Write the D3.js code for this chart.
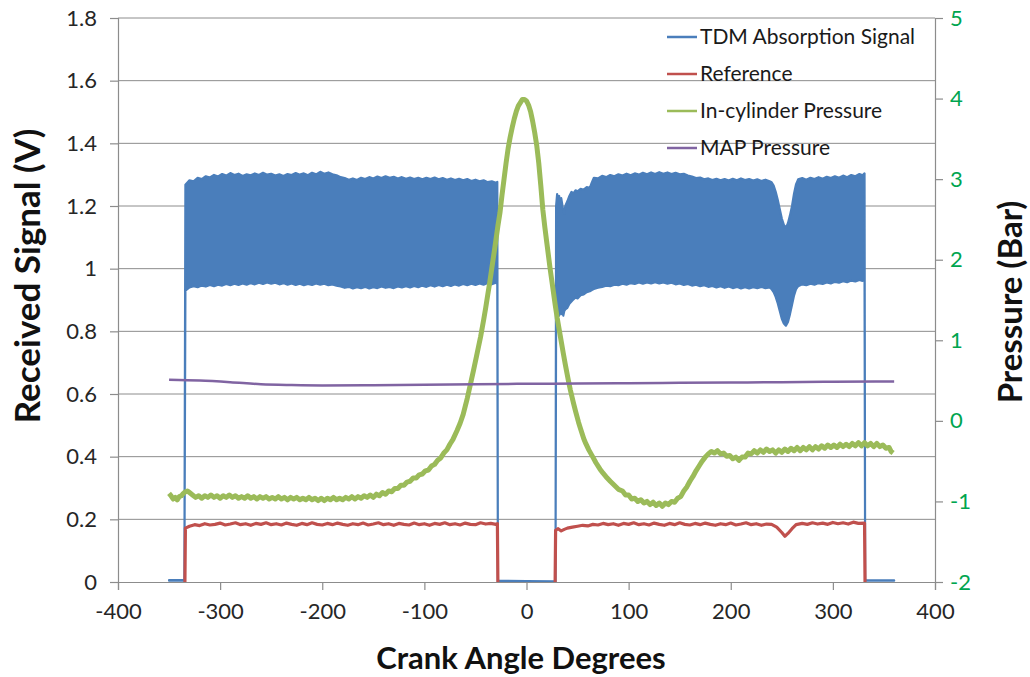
<!DOCTYPE html>
<html>
<head>
<meta charset="utf-8">
<script src="https://cdn.jsdelivr.net/npm/d3@7"></script>
<style>
  body { margin: 0; background: #fff; }
  svg { display: block; }
  text { font-family: Lato, "Noto Sans", sans-serif; }
</style>
</head>
<body>
<svg id="chart" width="1030" height="677"></svg>
<script>
// ---- Series data (crank angle in degrees) ----

// TDM absorption signal. The fast oscillation is kept as its envelope:
// each row is [crank angle, upper value (V), lower value (V)].
const tdmOffStart = [[-350, 0.006, 0.004], [-335, 0.006, 0.004]];
const tdmOnFirst = [
  [-334, 1.268, 0.930], [-330, 1.282, 0.940], [-326, 1.279, 0.944], [-322, 1.290, 0.941], [-318, 1.286, 0.946],
  [-314, 1.295, 0.943], [-310, 1.291, 0.948], [-306, 1.299, 0.944], [-302, 1.294, 0.949], [-298, 1.302, 0.946],
  [-294, 1.297, 0.951], [-290, 1.305, 0.947], [-286, 1.299, 0.952], [-282, 1.303, 0.948], [-278, 1.296, 0.953],
  [-274, 1.301, 0.949], [-270, 1.298, 0.954], [-266, 1.304, 0.950], [-262, 1.299, 0.955], [-258, 1.306, 0.951],
  [-254, 1.300, 0.956], [-250, 1.303, 0.952], [-246, 1.297, 0.955], [-242, 1.301, 0.950], [-238, 1.296, 0.954],
  [-234, 1.302, 0.949], [-230, 1.299, 0.953], [-226, 1.305, 0.948], [-222, 1.300, 0.952], [-218, 1.304, 0.947],
  [-214, 1.298, 0.951], [-210, 1.306, 0.948], [-206, 1.301, 0.953], [-202, 1.309, 0.949], [-198, 1.303, 0.952],
  [-194, 1.307, 0.947], [-190, 1.301, 0.950], [-186, 1.298, 0.946], [-182, 1.292, 0.943], [-178, 1.289, 0.939],
  [-174, 1.284, 0.942], [-170, 1.288, 0.937], [-166, 1.283, 0.941], [-162, 1.290, 0.938], [-158, 1.286, 0.942],
  [-154, 1.292, 0.937], [-150, 1.288, 0.941], [-146, 1.294, 0.938], [-142, 1.289, 0.943], [-138, 1.295, 0.939],
  [-134, 1.290, 0.942], [-130, 1.293, 0.938], [-126, 1.288, 0.943], [-122, 1.292, 0.940], [-118, 1.287, 0.944],
  [-114, 1.291, 0.940], [-110, 1.286, 0.945], [-106, 1.290, 0.941], [-102, 1.285, 0.946], [-98, 1.290, 0.942],
  [-94, 1.286, 0.947], [-90, 1.291, 0.943], [-86, 1.285, 0.948], [-82, 1.289, 0.944], [-78, 1.284, 0.949],
  [-74, 1.288, 0.945], [-70, 1.283, 0.950], [-66, 1.287, 0.946], [-62, 1.282, 0.951], [-58, 1.286, 0.947],
  [-54, 1.280, 0.952], [-50, 1.284, 0.948], [-46, 1.279, 0.953], [-42, 1.282, 0.949], [-38, 1.276, 0.954],
  [-34, 1.279, 0.950], [-30, 1.274, 0.955], [-28.6, 1.277, 0.952]
];
const tdmOffMiddle = [[-28, 0.004, 0.002], [0, 0.003, 0.002], [28.4, 0.002, 0.001]];
const tdmOnSecond = [
  [29, 1.200, 0.880], [30, 1.238, 0.860], [31, 1.215, 0.875], [32, 1.232, 0.850], [33, 1.195, 0.870],
  [34, 1.225, 0.855], [35, 1.205, 0.875], [36, 1.185, 0.850], [37, 1.175, 0.865], [38, 1.200, 0.870],
  [40, 1.215, 0.875], [42, 1.232, 0.888], [44, 1.245, 0.895], [46, 1.240, 0.902], [48, 1.250, 0.908],
  [50, 1.247, 0.905], [53, 1.255, 0.915], [56, 1.252, 0.918], [59, 1.260, 0.925], [62, 1.258, 0.928],
  [64, 1.275, 0.932], [66, 1.290, 0.935], [70, 1.288, 0.939], [74, 1.296, 0.942], [78, 1.292, 0.946],
  [82, 1.299, 0.944], [86, 1.295, 0.949], [90, 1.301, 0.947], [94, 1.297, 0.952], [98, 1.303, 0.949],
  [102, 1.298, 0.954], [106, 1.304, 0.951], [110, 1.300, 0.956], [114, 1.306, 0.952], [118, 1.301, 0.956],
  [122, 1.307, 0.953], [126, 1.302, 0.957], [130, 1.308, 0.953], [134, 1.303, 0.956], [138, 1.307, 0.952],
  [142, 1.302, 0.955], [146, 1.306, 0.950], [150, 1.301, 0.953], [154, 1.303, 0.948], [158, 1.297, 0.951],
  [162, 1.294, 0.946], [166, 1.289, 0.949], [170, 1.291, 0.944], [174, 1.285, 0.947], [178, 1.288, 0.942],
  [182, 1.283, 0.945], [186, 1.287, 0.940], [190, 1.282, 0.944], [194, 1.286, 0.939], [198, 1.281, 0.943],
  [202, 1.287, 0.938], [206, 1.282, 0.942], [210, 1.288, 0.937], [214, 1.283, 0.941], [218, 1.286, 0.937],
  [222, 1.281, 0.941], [226, 1.285, 0.938], [230, 1.280, 0.942], [234, 1.284, 0.938], [238, 1.279, 0.940],
  [240, 1.276, 0.935], [242, 1.265, 0.925], [244, 1.245, 0.910], [246, 1.220, 0.890], [248, 1.190, 0.865],
  [250, 1.160, 0.840], [252, 1.140, 0.825], [254, 1.130, 0.818], [256, 1.145, 0.830], [258, 1.170, 0.855],
  [260, 1.200, 0.885], [262, 1.240, 0.915], [264, 1.270, 0.935], [266, 1.285, 0.944], [270, 1.289, 0.950],
  [274, 1.284, 0.947], [278, 1.290, 0.952], [282, 1.286, 0.949], [286, 1.292, 0.954], [290, 1.287, 0.951],
  [294, 1.293, 0.956], [298, 1.289, 0.953], [302, 1.295, 0.958], [306, 1.290, 0.955], [310, 1.297, 0.960],
  [314, 1.292, 0.957], [318, 1.299, 0.962], [322, 1.295, 0.959], [326, 1.302, 0.964], [329, 1.298, 0.961],
  [331, 1.304, 0.965]
];
const tdmOffEnd = [[331.6, 0.006, 0.004], [360, 0.005, 0.004]];

// Reference detector signal (V)
const refAngle = [-350, -334.5, -334, -330, -325, -320, -315, -310, -305, -300, -295, -290, -285, -280, -275, -270, -265, -260, -255, -250, -245, -240, -235, -230, -225, -220, -215, -210, -205, -200,
  -195, -190, -185, -180, -175, -170, -165, -160, -155, -150, -145, -140, -135, -130, -125, -120, -115, -110, -105, -100, -95, -90, -85, -80, -75, -70, -65, -60, -55, -50, -45, -40, -35, -30, -28.5, -28,
  28, 28.5, 31, 34, 37, 40, 45, 50, 55, 60, 65, 70, 75, 80, 85, 90, 95, 100, 105, 110, 115, 120, 125, 130, 135, 140, 145, 150, 155, 160, 165, 170, 175, 180, 185, 190, 195, 200, 205, 210, 215, 220, 225, 230, 235, 240,
  245, 250, 253, 256, 260, 264, 270, 275, 280, 285, 290, 295, 300, 305, 310, 315, 320, 325, 331, 331.5, 360];
const refSignal = [-0.01, -0.01, 0.172, 0.178, 0.183, 0.180, 0.186, 0.182, 0.184, 0.188, 0.182, 0.185, 0.189, 0.183, 0.186, 0.181, 0.187, 0.184, 0.189, 0.183, 0.186, 0.182, 0.188, 0.184, 0.181, 0.187, 0.183, 0.189, 0.184, 0.182,
  0.187, 0.183, 0.188, 0.184, 0.181, 0.186, 0.183, 0.188, 0.182, 0.185, 0.189, 0.183, 0.186, 0.181, 0.187, 0.184, 0.182, 0.188, 0.183, 0.186, 0.181, 0.187, 0.184, 0.189, 0.183, 0.186, 0.182, 0.188, 0.184, 0.183, 0.189, 0.185, 0.187, 0.184, 0.186, -0.01,
  -0.01, 0.165, 0.170, 0.163, 0.168, 0.172, 0.175, 0.178, 0.181, 0.179, 0.184, 0.182, 0.187, 0.183, 0.186, 0.181, 0.187, 0.184, 0.189, 0.183, 0.186, 0.182, 0.188, 0.184, 0.181, 0.187, 0.183, 0.189, 0.184, 0.182, 0.187, 0.183, 0.188, 0.184, 0.181, 0.186, 0.183, 0.188, 0.182, 0.185, 0.189, 0.183, 0.186, 0.181, 0.185, 0.184,
  0.175, 0.158, 0.146, 0.155, 0.170, 0.183, 0.187, 0.184, 0.189, 0.185, 0.188, 0.184, 0.190, 0.186, 0.189, 0.185, 0.191, 0.187, 0.188, -0.01, -0.01];

// In-cylinder pressure: [crank angle, pressure (bar)]
const pcylCurve = [
  [-350, -0.90], [-348, -0.93], [-346, -0.97], [-344, -0.95], [-342, -0.98], [-340, -0.94], [-338, -0.93], [-336, -0.90],
  [-334, -0.88], [-332, -0.87], [-330, -0.89], [-327, -0.92], [-324, -0.95], [-321, -0.93], [-318, -0.96], [-315, -0.93],
  [-312, -0.95], [-309, -0.92], [-306, -0.95], [-303, -0.93], [-300, -0.96], [-297, -0.93], [-294, -0.95], [-291, -0.92],
  [-288, -0.95], [-285, -0.93], [-282, -0.96], [-279, -0.94], [-276, -0.96], [-273, -0.93], [-270, -0.96], [-267, -0.94],
  [-264, -0.97], [-261, -0.94], [-258, -0.96], [-255, -0.94], [-252, -0.97], [-249, -0.95], [-246, -0.97], [-243, -0.94],
  [-240, -0.97], [-237, -0.95], [-234, -0.98], [-231, -0.95], [-228, -0.97], [-225, -0.95], [-222, -0.98], [-219, -0.96],
  [-216, -0.98], [-213, -0.95], [-210, -0.98], [-207, -0.96], [-204, -0.99], [-201, -0.96], [-198, -0.99], [-195, -0.96],
  [-192, -0.98], [-189, -0.95], [-186, -0.98], [-183, -0.96], [-180, -0.98], [-177, -0.95], [-174, -0.97], [-171, -0.94],
  [-168, -0.97], [-165, -0.94], [-162, -0.96], [-159, -0.93], [-156, -0.95], [-153, -0.92], [-150, -0.95], [-147, -0.91],
  [-144, -0.93], [-141, -0.89], [-138, -0.91], [-135, -0.87], [-132, -0.88], [-129, -0.84], [-126, -0.84], [-123, -0.80],
  [-120, -0.80], [-117, -0.76], [-114, -0.75], [-111, -0.71], [-108, -0.71], [-105, -0.67], [-102, -0.66], [-99, -0.62],
  [-96, -0.61], [-93, -0.56], [-90, -0.54], [-87, -0.49], [-84, -0.46], [-81, -0.40], [-78, -0.36], [-75, -0.29],
  [-72, -0.23], [-68, -0.12], [-65, -0.03], [-62, 0.08], [-58, 0.28], [-55, 0.45], [-52, 0.62], [-49, 0.80],
  [-45, 1.04], [-42, 1.25], [-40, 1.40], [-38, 1.56], [-36, 1.72], [-33, 1.98], [-31, 2.15], [-28, 2.42],
  [-26, 2.58], [-24, 2.80], [-22, 3.00], [-20, 3.20], [-18, 3.38], [-16, 3.52], [-14, 3.64], [-12, 3.75],
  [-10, 3.84], [-8, 3.91], [-6, 3.95], [-4, 3.99], [-2, 3.99], [0, 3.97], [2, 3.92], [4, 3.84],
  [6, 3.72], [8, 3.58], [10, 3.42], [12, 3.20], [14, 2.92], [16, 2.62], [18, 2.40], [20, 2.20],
  [23, 1.90], [25, 1.72], [28, 1.45], [30, 1.28], [33, 1.06], [36, 0.84], [38, 0.70], [41, 0.50],
  [43, 0.38], [46, 0.22], [48, 0.12], [51, -0.02], [53, -0.10], [56, -0.22], [58, -0.28], [61, -0.36],
  [65, -0.45], [68, -0.52], [72, -0.60], [75, -0.65], [79, -0.71], [82, -0.75], [86, -0.80], [90, -0.85],
  [94, -0.87], [97, -0.92], [100, -0.92], [103, -0.97], [106, -0.96], [109, -1.00], [112, -0.98], [115, -1.02],
  [118, -1.00], [121, -1.04], [124, -1.01], [127, -1.05], [130, -1.02], [133, -1.06], [136, -1.02], [139, -1.04],
  [142, -1.00], [145, -1.01], [148, -0.96], [151, -0.94], [154, -0.87], [157, -0.82], [160, -0.75], [163, -0.69],
  [166, -0.62], [169, -0.56], [172, -0.50], [175, -0.45], [178, -0.41], [181, -0.38], [184, -0.40], [187, -0.37],
  [190, -0.41], [193, -0.40], [196, -0.44], [199, -0.43], [202, -0.47], [205, -0.45], [208, -0.49], [211, -0.45],
  [214, -0.45], [217, -0.40], [220, -0.41], [223, -0.37], [226, -0.40], [229, -0.36], [232, -0.39], [235, -0.35],
  [238, -0.38], [241, -0.36], [244, -0.40], [247, -0.36], [250, -0.39], [253, -0.35], [256, -0.38], [259, -0.34],
  [262, -0.37], [265, -0.33], [268, -0.37], [271, -0.33], [274, -0.36], [277, -0.32], [280, -0.36], [283, -0.32],
  [286, -0.35], [289, -0.31], [292, -0.34], [295, -0.30], [298, -0.33], [301, -0.30], [304, -0.33], [307, -0.29],
  [310, -0.32], [313, -0.29], [316, -0.32], [319, -0.28], [322, -0.31], [325, -0.27], [328, -0.31], [331, -0.27],
  [334, -0.31], [337, -0.28], [340, -0.32], [343, -0.28], [346, -0.32], [349, -0.30], [352, -0.34], [355, -0.33],
  [357, -0.38], [359, -0.40]
];

// Manifold absolute pressure (bar)
const mapAngle = [-350, -320, -290, -260, -230, -200, -150, -100, -50, 0, 50, 100, 150, 200, 250, 300, 360];
const mapBar = [0.51, 0.50, 0.48, 0.455, 0.445, 0.44, 0.443, 0.448, 0.455, 0.46, 0.463, 0.468, 0.472, 0.476, 0.48, 0.485, 0.49];

// Axes
const xTicks = [-400, -300, -200, -100, 0, 100, 200, 300, 400];
const leftTicks = [0, 0.2, 0.4, 0.6, 0.8, 1, 1.2, 1.4, 1.6, 1.8];
const leftTickLabels = ["0", "0.2", "0.4", "0.6", "0.8", "1", "1.2", "1.4", "1.6", "1.8"];
const rightTicks = [-2, -1, 0, 1, 2, 3, 4, 5];
const seriesNames = ["TDM Absorption Signal", "Reference", "In-cylinder Pressure", "MAP Pressure"];
const seriesColors = ["#4A7EBB", "#C0504D", "#9BBB59", "#8064A2"];

// ---- Drawing ----
const svg = d3.select("#chart");
const W = 1030, H = 677;
const plot = { left: 118, right: 935, top: 18, bottom: 582 };

const x = d3.scaleLinear().domain([-400, 400]).range([plot.left, plot.right]);
const yL = d3.scaleLinear().domain([0, 1.8]).range([plot.bottom, plot.top]);
const yR = d3.scaleLinear().domain([-2, 5]).range([plot.bottom, plot.top]);

// Plain hyphen-minus for negative tick labels
const intLabel = d => String(d);

svg.append("rect").attr("width", W).attr("height", H).attr("fill", "#fff");

const gridColor = "#8c8c8c";

// Horizontal gridlines
svg.append("g")
  .selectAll("line")
  .data(leftTicks.filter(d => d > 0))
  .join("line")
  .attr("x1", plot.left).attr("x2", plot.right)
  .attr("y1", d => yL(d)).attr("y2", d => yL(d))
  .attr("stroke", gridColor).attr("stroke-width", 1);

// Left axis
const gLeft = svg.append("g")
  .attr("transform", `translate(${plot.left},0)`)
  .call(d3.axisLeft(yL).tickValues(leftTicks)
    .tickFormat((d, i) => leftTickLabels[i]).tickSize(8).tickPadding(13));
// Right axis
const gRight = svg.append("g")
  .attr("transform", `translate(${plot.right},0)`)
  .call(d3.axisRight(yR).tickValues(rightTicks).tickFormat(intLabel).tickSize(8).tickPadding(7));
// Bottom axis
const gBottom = svg.append("g")
  .attr("transform", `translate(0,${plot.bottom})`)
  .call(d3.axisBottom(x).tickValues(xTicks).tickFormat(intLabel).tickSize(8).tickPadding(13));

[gLeft, gRight, gBottom].forEach(g => {
  g.select(".domain").attr("stroke", gridColor).attr("stroke-width", 1.2);
  g.selectAll(".tick line").attr("stroke", gridColor).attr("stroke-width", 1.2);
  g.selectAll(".tick text").attr("font-size", 22).attr("font-family", "Lato, 'Noto Sans', sans-serif");
});
gLeft.selectAll(".tick text").attr("fill", "#262626");
gBottom.selectAll(".tick text").attr("fill", "#262626");
gRight.selectAll(".tick text").attr("fill", "#00A54F");

// Clip for the series
svg.append("clipPath").attr("id", "plot-clip")
  .append("rect")
  .attr("x", plot.left).attr("y", plot.top)
  .attr("width", plot.right - plot.left).attr("height", plot.bottom - plot.top);

const series = svg.append("g").attr("clip-path", "url(#plot-clip)");

// TDM absorption envelope (off periods collapse to a thin line near zero)
const tdmRows = [...tdmOffStart, ...tdmOnFirst, ...tdmOffMiddle, ...tdmOnSecond, ...tdmOffEnd]
  .map(([a, hi, lo]) => ({ a, hi, lo }));
series.append("path")
  .datum(tdmRows)
  .attr("d", d3.area().x(d => x(d.a)).y0(d => yL(d.lo)).y1(d => yL(d.hi)))
  .attr("fill", seriesColors[0])
  .attr("stroke", seriesColors[0])
  .attr("stroke-width", 2.2)
  .attr("stroke-linejoin", "round");

// Reference signal
const refRows = refAngle.map((a, i) => ({ a, v: refSignal[i] }));
series.append("path")
  .datum(refRows)
  .attr("d", d3.line().x(d => x(d.a)).y(d => yL(d.v)))
  .attr("fill", "none")
  .attr("stroke", seriesColors[1])
  .attr("stroke-width", 3.2)
  .attr("stroke-linejoin", "round");

// In-cylinder pressure
series.append("path")
  .datum(pcylCurve)
  .attr("d", d3.line().x(d => x(d[0])).y(d => yR(d[1])))
  .attr("fill", "none")
  .attr("stroke", seriesColors[2])
  .attr("stroke-width", 5)
  .attr("stroke-linejoin", "round");

// MAP pressure
const mapRows = mapAngle.map((a, i) => ({ a, v: mapBar[i] }));
series.append("path")
  .datum(mapRows)
  .attr("d", d3.line().x(d => x(d.a)).y(d => yR(d.v)).curve(d3.curveMonotoneX))
  .attr("fill", "none")
  .attr("stroke", seriesColors[3])
  .attr("stroke-width", 2.5);

// Legend
const legendY = [37, 74, 111, 148];
const legend = svg.append("g");
seriesNames.forEach((name, i) => {
  legend.append("line")
    .attr("x1", 667).attr("x2", 697)
    .attr("y1", legendY[i]).attr("y2", legendY[i])
    .attr("stroke", seriesColors[i]).attr("stroke-width", 2.5);
  legend.append("text")
    .attr("x", 700).attr("y", legendY[i])
    .attr("dy", "0.35em")
    .attr("font-size", 21)
    .attr("fill", "#1a1a1a")
    .text(name);
});

// Axis titles
svg.append("text")
  .attr("x", 521).attr("y", 669)
  .attr("text-anchor", "middle")
  .attr("font-size", 31).attr("font-weight", "bold").attr("fill", "#111")
  .text("Crank Angle Degrees");

svg.append("text")
  .attr("transform", "translate(40,276) rotate(-90)")
  .attr("text-anchor", "middle")
  .attr("font-size", 35).attr("font-weight", "bold").attr("fill", "#111")
  .text("Received Signal (V)");

svg.append("text")
  .attr("transform", "translate(1022,302) rotate(-90)")
  .attr("text-anchor", "middle")
  .attr("font-size", 33).attr("font-weight", "bold").attr("fill", "#111")
  .text("Pressure (Bar)");
</script>
</body>
</html>
